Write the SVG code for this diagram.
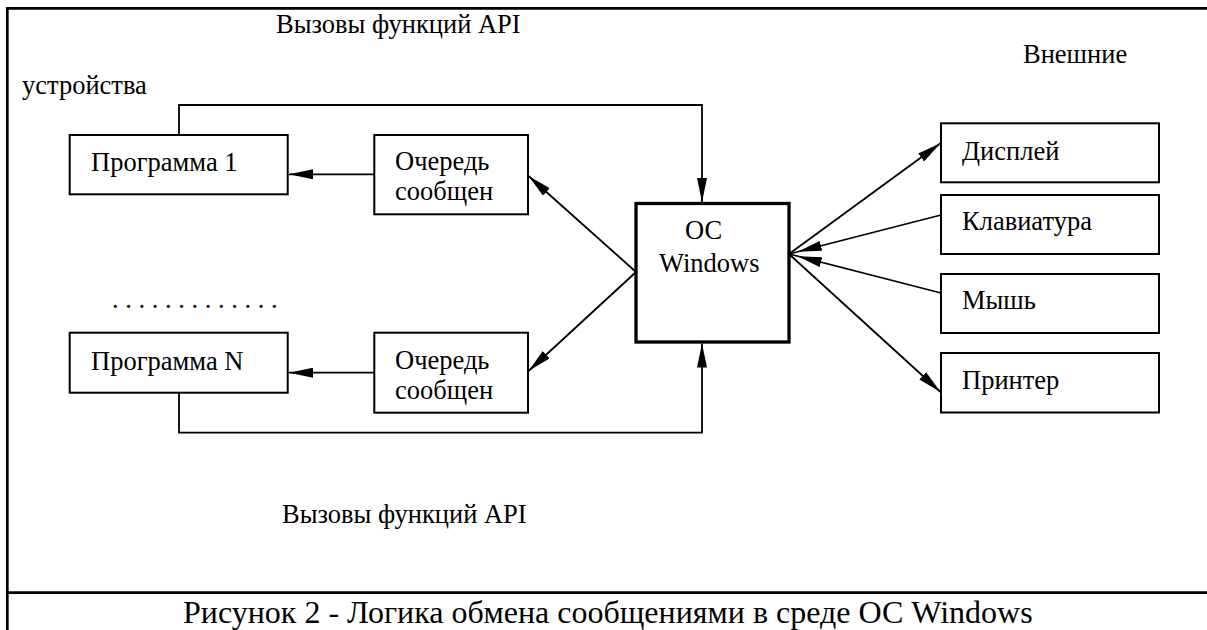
<svg xmlns="http://www.w3.org/2000/svg" width="1207" height="630" viewBox="0 0 1207 630">
<style>
.t{font-family:'Liberation Serif','Times New Roman',serif;font-size:26.5px;fill:#000}
.cap{font-family:'Liberation Serif','Times New Roman',serif;font-size:32px;fill:#000}
.box{fill:#fff;stroke:#000;stroke-width:2}
.os{fill:#fff;stroke:#000;stroke-width:3.3}
.ln{fill:none;stroke:#000;stroke-width:1.8}
.fr{fill:none;stroke:#000;stroke-width:2.7}
</style>
<defs>
<marker id="arr" markerUnits="userSpaceOnUse" markerWidth="24" markerHeight="10" refX="24" refY="5" orient="auto"><path d="M0,0 L24,5 L0,10 z" fill="#000"/></marker>
<marker id="arrOff" markerUnits="userSpaceOnUse" markerWidth="34" markerHeight="10" refX="33" refY="5" orient="auto"><path d="M0,0 L24,5 L0,10 z" fill="#000"/></marker>
</defs>
<rect width="1207" height="630" fill="#fff"/>
<g id="frame">
<path class="fr" d="M7.3,630 V8.3 H1207"/>
<path class="fr" d="M7.3,592.7 H1207"/>
</g>
<g id="labels">
<text class="t" x="276" y="33">Вызовы функций API</text>
<text class="t" x="22" y="94">устройства</text>
<text class="t" x="1023" y="63">Внешние</text>
<text class="t" x="112" y="308">. . . . . . . . . . . . .</text>
<text class="t" x="282" y="523">Вызовы функций API</text>
<text class="cap" x="183" y="623">Рисунок 2 - Логика обмена сообщениями в среде ОС Windows</text>
</g>
<g id="connectors">
<path class="ln" d="M179,135 V105 H702 V202" marker-end="url(#arr)"/>
<path class="ln" d="M179,392.7 V432.7 H702 V343.5" marker-end="url(#arr)"/>
<path class="ln" d="M374.3,174.3 H289" marker-end="url(#arr)"/>
<path class="ln" d="M374.3,372.7 H289" marker-end="url(#arr)"/>
<path class="ln" d="M636,272 L528.5,176" marker-end="url(#arr)"/>
<path class="ln" d="M636,272 L528.5,371" marker-end="url(#arr)"/>
<path class="ln" d="M789,254 L940.5,143.3" marker-end="url(#arr)"/>
<path class="ln" d="M941,215 L789,254" marker-end="url(#arrOff)"/>
<path class="ln" d="M941,293 L789,254" marker-end="url(#arrOff)"/>
<path class="ln" d="M789,254 L940.5,392" marker-end="url(#arr)"/>
</g>
<g id="prog1">
<rect class="box" x="69.7" y="135" width="218" height="59.3"/>
<text class="t" x="91" y="171">Программа 1</text>
</g>
<g id="queue1">
<rect class="box" x="374.3" y="135" width="153.7" height="79.3"/>
<text class="t" x="395" y="170">Очередь</text>
<text class="t" x="395" y="199.5">сообщен</text>
</g>
<g id="progN">
<rect class="box" x="69.7" y="332.7" width="218" height="60"/>
<text class="t" x="91" y="369.5">Программа N</text>
</g>
<g id="queueN">
<rect class="box" x="374.3" y="332.7" width="153.7" height="80"/>
<text class="t" x="395" y="368.5">Очередь</text>
<text class="t" x="395" y="398.5">сообщен</text>
</g>
<g id="os">
<rect class="os" x="636" y="203.5" width="153" height="138.5"/>
<text class="t" x="685" y="239">ОС</text>
<text class="t" x="659" y="271.5">Windows</text>
</g>
<g id="display">
<rect class="box" x="941" y="123.3" width="218" height="59"/>
<text class="t" x="962" y="159.5">Дисплей</text>
</g>
<g id="keyboard">
<rect class="box" x="941" y="195" width="218" height="59"/>
<text class="t" x="962" y="230">Клавиатура</text>
</g>
<g id="mouse">
<rect class="box" x="941" y="274" width="218" height="59"/>
<text class="t" x="962" y="309">Мышь</text>
</g>
<g id="printer">
<rect class="box" x="941" y="353" width="218" height="59.5"/>
<text class="t" x="962" y="388.5">Принтер</text>
</g>
</svg>
